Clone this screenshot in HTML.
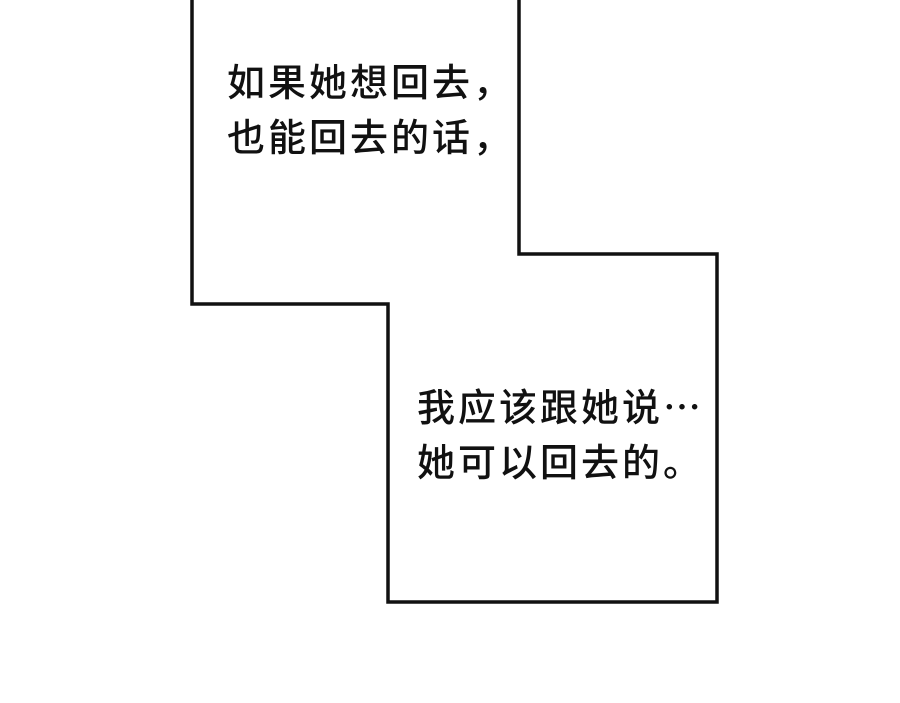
<!DOCTYPE html>
<html><head><meta charset="utf-8"><style>
body{margin:0;width:900px;height:703px;background:#fff;position:relative;overflow:hidden;font-family:"Liberation Sans","Noto Sans CJK SC",sans-serif;}
.t{position:absolute;font-size:38px;line-height:55px;color:#111;letter-spacing:3px;white-space:nowrap;font-weight:500}
</style></head><body>
<svg width="900" height="703" style="position:absolute;left:0;top:0">
<polyline points="192,-5 192,304 388,304 388,602 717,602 717,254 519,254 519,-5" fill="none" stroke="#111" stroke-width="3.5" stroke-linejoin="miter"/>
</svg>
<div class="t" style="left:227px;top:57px">如果她想回去，<br>也能回去的话，</div>
<div class="t" style="left:417px;top:382px">我应该跟她说⋯<br>她可以回去的。</div>
</body></html>
